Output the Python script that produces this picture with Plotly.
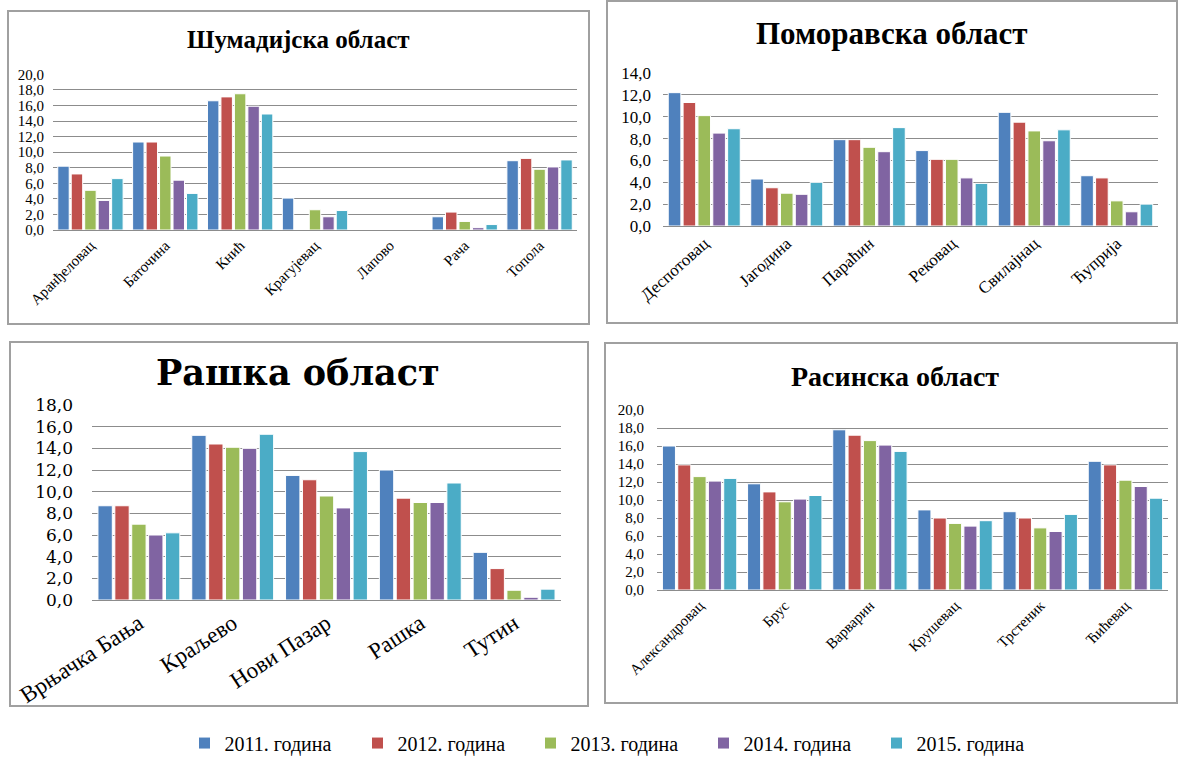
import plotly.graph_objects as go

# ---------------- data ----------------
years = ["2011. година", "2012. година", "2013. година", "2014. година", "2015. година"]
colors = ["#4F81BD", "#C0504D", "#9BBB59", "#8064A2", "#4BACC6"]

sum_title = "Шумадијска област"
sum_cats = ["Аранђеловац", "Баточина", "Кнић", "Крагујевац", "Лапово", "Рача", "Топола"]
sum_2011 = [8.2, 11.3, 16.6, 4.1, None, 1.7, 8.9]
sum_2012 = [7.2, 11.3, 17.1, None, None, 2.3, 9.2]
sum_2013 = [5.1, 9.5, 17.5, 2.6, None, 1.1, 7.8]
sum_2014 = [3.8, 6.4, 15.9, 1.7, None, 0.3, 8.1]
sum_2015 = [6.6, 4.7, 14.9, 2.5, None, 0.7, 9.0]

pom_title = "Поморавска област"
pom_cats = ["Деспотовац", "Јагодина", "Параћин", "Рековац", "Свилајнац", "Ћуприја"]
pom_2011 = [12.2, 4.3, 7.9, 6.9, 10.4, 4.6]
pom_2012 = [11.3, 3.5, 7.9, 6.1, 9.5, 4.4]
pom_2013 = [10.1, 3.0, 7.2, 6.1, 8.7, 2.3]
pom_2014 = [8.5, 2.9, 6.8, 4.4, 7.8, 1.3]
pom_2015 = [8.9, 4.0, 9.0, 3.9, 8.8, 2.0]

ras_title = "Рашка област"
ras_cats = ["Врњачка Бања", "Краљево", "Нови Пазар", "Рашка", "Тутин"]
ras_2011 = [8.7, 15.2, 11.5, 12.0, 4.4]
ras_2012 = [8.7, 14.4, 11.1, 9.4, 2.9]
ras_2013 = [7.0, 14.1, 9.6, 9.0, 0.9]
ras_2014 = [6.0, 14.0, 8.5, 9.0, 0.25]
ras_2015 = [6.2, 15.3, 13.7, 10.8, 1.0]

rsn_title = "Расинска област"
rsn_cats = ["Александровац", "Брус", "Варварин", "Крушевац", "Трстеник", "Ћићевац"]
rsn_2011 = [16.0, 11.8, 17.8, 8.9, 8.7, 14.3]
rsn_2012 = [13.9, 10.9, 17.2, 8.0, 8.0, 13.9]
rsn_2013 = [12.6, 9.8, 16.6, 7.4, 6.9, 12.2]
rsn_2014 = [12.1, 10.1, 16.1, 7.1, 6.5, 11.5]
rsn_2015 = [12.4, 10.5, 15.4, 7.7, 8.4, 10.2]

W, H = 1178, 758

def px_x(v):
    return v / W

def px_y(v):
    return 1 - v / H

panels = [
    dict(title=sum_title, cats=sum_cats, series=[sum_2011, sum_2012, sum_2013, sum_2014, sum_2015],
         ymax=20, xd=(53, 577), yd=(74.3, 230), frame=(8, 11, 589, 324), tpos=(298, 40),
         tfont=dict(family="Liberation Serif", size=25, color="black"),
         tickfont=dict(family="Liberation Serif", size=15, color="black"),
         catfont=dict(family="Liberation Serif", size=15, color="black"), standoff=8, angle=-45),
    dict(title=pom_title, cats=pom_cats, series=[pom_2011, pom_2012, pom_2013, pom_2014, pom_2015],
         ymax=14, xd=(663, 1158), yd=(73, 226), frame=(607, 1, 1177, 323), tpos=(892, 34),
         tfont=dict(family="Liberation Serif", size=31, color="black"),
         tickfont=dict(family="Liberation Serif", size=17, color="black"),
         catfont=dict(family="Liberation Serif", size=17, color="black"), standoff=11, angle=-42),
    dict(title=ras_title, cats=ras_cats, series=[ras_2011, ras_2012, ras_2013, ras_2014, ras_2015],
         ymax=18, xd=(92, 561), yd=(405, 600), frame=(10, 342, 588, 706), tpos=(298, 372),
         tfont=dict(family="DejaVu Serif", size=35, color="black"),
         tickfont=dict(family="DejaVu Serif", size=17, color="black"),
         catfont=dict(family="Liberation Serif", size=23, color="black"), standoff=18, angle=-33),
    dict(title=rsn_title, cats=rsn_cats, series=[rsn_2011, rsn_2012, rsn_2013, rsn_2014, rsn_2015],
         ymax=20, xd=(657, 1168), yd=(410, 590), frame=(605, 343, 1177, 703), tpos=(895, 376),
         tfont=dict(family="Liberation Serif", size=28, color="black"),
         tickfont=dict(family="Liberation Serif", size=15, color="black"),
         catfont=dict(family="Liberation Serif", size=15, color="black"), standoff=12, angle=-45),
]

fig = go.Figure()
layout_axes = {}
shapes = []
annotations = []

for i, p in enumerate(panels):
    n = i + 1
    xa = "x" if n == 1 else f"x{n}"
    ya = "y" if n == 1 else f"y{n}"
    for k, (yr, col, vals) in enumerate(zip(years, colors, p["series"])):
        fig.add_trace(go.Bar(
            x=p["cats"], y=vals, name=yr, xaxis=xa, yaxis=ya,
            marker=dict(color=col, line=dict(color="white", width=1)),
            legendgroup=yr, showlegend=(n == 1),
        ))
    xkey = "xaxis" if n == 1 else f"xaxis{n}"
    ykey = "yaxis" if n == 1 else f"yaxis{n}"
    layout_axes[xkey] = dict(
        domain=[px_x(p["xd"][0]), px_x(p["xd"][1])], anchor=ya,
        type="category", range=[-0.5, len(p["cats"]) - 0.5],
        tickangle=p["angle"], tickfont=p["catfont"], showgrid=False,
        showline=True, linecolor="#8C8C8C", linewidth=1, ticks="",
        fixedrange=True, automargin=False,
    )
    layout_axes[ykey] = dict(
        domain=[px_y(p["yd"][1]), px_y(p["yd"][0])], anchor=xa,
        range=[0, p["ymax"]], dtick=2, tick0=0, tickformat=".1f",
        tickfont=p["tickfont"], showgrid=True, gridcolor="#8C8C8C", gridwidth=1,
        zeroline=False, showline=False, ticks="", ticklabelstandoff=p["standoff"],
        fixedrange=True, automargin=False,
    )
    fx0, fy0, fx1, fy1 = p["frame"]
    shapes.append(dict(type="rect", xref="paper", yref="paper",
                       x0=px_x(fx0), x1=px_x(fx1), y0=px_y(fy1), y1=px_y(fy0),
                       line=dict(color="#A0A0A0", width=2), layer="below"))
    annotations.append(dict(text="<b>" + p["title"] + "</b>", xref="paper", yref="paper",
                            x=px_x(p["tpos"][0]), y=px_y(p["tpos"][1]),
                            xanchor="center", yanchor="middle", showarrow=False,
                            font=p["tfont"]))

fig.update_layout(
    width=W, height=H, autosize=False,
    margin=dict(l=0, r=0, t=0, b=0, pad=0, autoexpand=False),
    paper_bgcolor="white", plot_bgcolor="white",
    separators=", ",
    bargap=0.1, bargroupgap=0.15, barmode="group",
    shapes=shapes, annotations=annotations,
    legend=dict(orientation="h", x=px_x(617), y=-0.006, xanchor="center", yanchor="bottom",
                font=dict(family="Liberation Serif", size=20, color="black"),
                entrywidth=128, entrywidthmode="pixels", itemwidth=30,
                bgcolor="rgba(0,0,0,0)", traceorder="normal"),
    **layout_axes,
)

fig.write_html("out.html", config={"responsive": False, "displayModeBar": False},
               post_script="document.body.style.margin='0';document.body.style.overflow='hidden';")
